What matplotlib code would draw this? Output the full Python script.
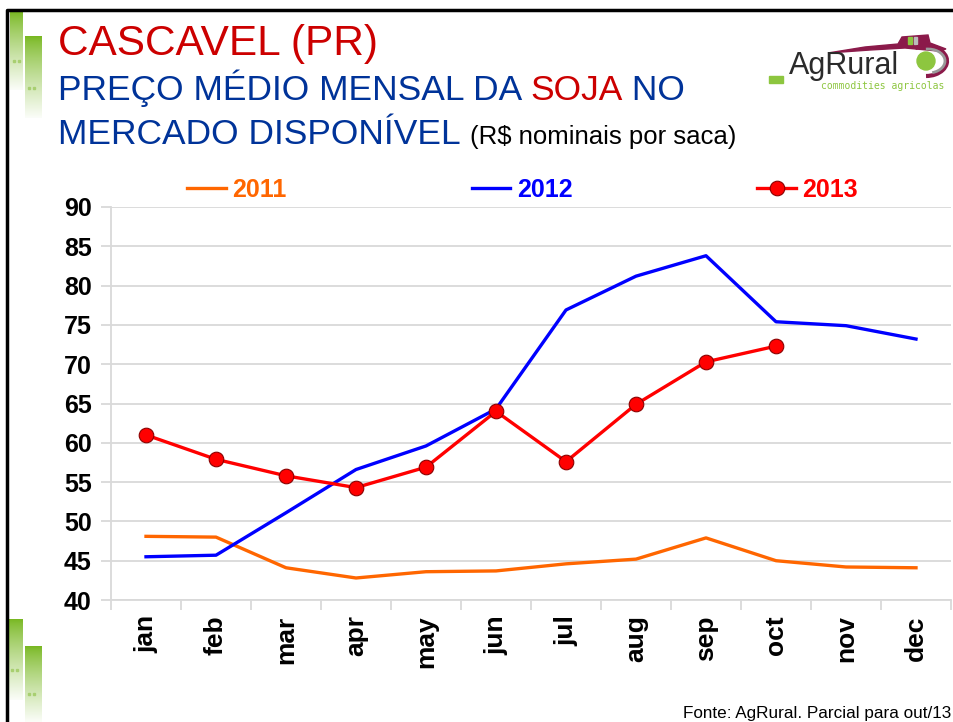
import matplotlib.pyplot as plt
import matplotlib.patches as mpatches
import numpy as np

plt.rcParams['font.family'] = ['Liberation Sans', 'DejaVu Sans']

months = ["jan", "feb", "mar", "apr", "may", "jun",
          "jul", "aug", "sep", "oct", "nov", "dec"]
soja_2011 = [48.1, 48.0, 44.1, 42.8, 43.6, 43.7, 44.6, 45.2, 47.9, 45.0, 44.2, 44.1]
soja_2012 = [45.5, 45.7, 51.1, 56.6, 59.6, 64.3, 76.9, 81.2, 83.8, 75.4, 74.9, 73.2]
soja_2013 = [61.0, 57.9, 55.8, 54.3, 56.9, 64.0, 57.6, 64.9, 70.3, 72.3]
y_ticks = [40, 45, 50, 55, 60, 65, 70, 75, 80, 85, 90]

W, H = 954, 722
fig = plt.figure(figsize=(W / 100, H / 100), dpi=100)

# --- page decorations, drawn in pixel coords ---
deco = fig.add_axes([0, 0, 1, 1])
deco.set_xlim(0, W)
deco.set_ylim(H, 0)
deco.axis("off")

grad = np.linspace(0, 1, 100).reshape(-1, 1, 1)
green = np.array([0.47, 0.72, 0.13])
img = green + (1 - green) * (grad ** 0.8) * 0.97
for x0, x1, y0, y1 in [(10, 23, 12, 90), (25, 42, 36, 118),
                       (8, 23, 619, 700), (25, 42, 646, 722)]:
    deco.imshow(img, extent=(x0, x1, y1, y0), aspect="auto", zorder=1)
    ym = y0 + (y1 - y0) * 0.62
    for dx in (3, 8):
        deco.add_patch(mpatches.Rectangle((x0 + dx, ym), 2, 2,
                                          color="#A8CF70", zorder=2))
deco.plot([7, 7, W], [H, 10, 10], color="black", lw=2.5, zorder=2)

# title
deco.text(58, 55, "CASCAVEL (PR)", color="#CC0000", fontsize=30.5)
t1 = deco.text(58, 100, "PREÇO MÉDIO MENSAL DA ", color="#003399", fontsize=25.5)
fig.canvas.draw()
t2 = deco.text(t1.get_window_extent().x1, 100, "SOJA", color="#CC0000",
               fontsize=25.5)
fig.canvas.draw()
deco.text(t2.get_window_extent().x1, 100, " NO", color="#003399", fontsize=25.5)
t3 = deco.text(58, 144, "MERCADO DISPONÍVEL", color="#003399", fontsize=25.5)
fig.canvas.draw()
deco.text(t3.get_window_extent().x1 + 9, 144, "(R$ nominais por saca)",
          color="black", fontsize=18.5)

# logo
maroon = "#8B1A4A"
deco.add_patch(mpatches.Polygon([(828, 53), (865, 47), (898, 44), (902, 37),
                                 (928, 35), (930, 43), (946, 49), (938, 51),
                                 (905, 48), (870, 50)],
                                closed=True, color=maroon, zorder=2))
deco.add_patch(mpatches.Rectangle((908, 37), 4, 7, color="#8DC63F", zorder=3))
deco.add_patch(mpatches.Rectangle((914, 37), 3, 7, color="#BBBBBB", zorder=3))
deco.add_patch(mpatches.Circle((926, 61), 9, color="#8DC63F", zorder=3))
deco.add_patch(mpatches.Arc((926, 61), 42, 30, theta1=-130, theta2=90,
                            color=maroon, lw=3, zorder=3))
deco.add_patch(mpatches.Arc((928, 61), 34, 24, theta1=-100, theta2=70,
                            color="#999999", lw=2, zorder=3))
deco.add_patch(mpatches.Rectangle((769, 76), 14, 7, color="#8DC63F", zorder=3))
deco.text(789, 74, "AgRural", color="#2B2B2B", fontsize=22, zorder=4)
deco.text(821, 89, "commodities agricolas", color="#8DC63F", fontsize=7,
          family="DejaVu Sans Mono", zorder=4)

deco.text(951, 718, "Fonte: AgRural. Parcial para out/13", ha="right",
          va="baseline", fontsize=12.3, color="black")

# --- chart ---
ax = fig.add_axes([111 / W, (H - 600) / H, 840 / W, 393 / H])
x = np.arange(len(months))
ax.plot(x, soja_2011, color="#FF6600", lw=2.4, label="2011", zorder=3)
ax.plot(x, soja_2012, color="#0000FF", lw=2.4, label="2012", zorder=3)
ax.plot(x[:len(soja_2013)], soja_2013, color="#FF0000", lw=2.4, marker="o",
        markersize=10.5, markerfacecolor="#FF0000", markeredgecolor="#8B0000",
        markeredgewidth=0.8, label="2013", zorder=4)

ax.set_xlim(-0.5, len(months) - 0.5)
ax.set_ylim(40, 90)
ax.set_yticks(y_ticks)
ax.set_yticklabels([str(v) for v in y_ticks], fontsize=18, fontweight="bold")
ax.yaxis.grid(True, color="#D9D9D9", lw=1.3)
ax.set_axisbelow(True)

ax.set_xticks(np.arange(-0.5, len(months), 1))
ax.set_xticklabels([])
ax.set_xticks(x, minor=True)
ax.set_xticklabels(months, minor=True, rotation=90, fontsize=19,
                   fontweight="bold")
ax.tick_params(axis="x", which="major", length=7, color="#D9D9D9", width=1.3)
ax.tick_params(axis="x", which="minor", length=0, pad=11)
ax.tick_params(axis="y", length=7, color="#D9D9D9", width=1.3, pad=7)

for s in ["top", "right"]:
    ax.spines[s].set_visible(False)
for s in ["left", "bottom"]:
    ax.spines[s].set_color("#D9D9D9")
    ax.spines[s].set_linewidth(1.3)

leg = ax.legend(loc="lower center", bbox_to_anchor=(0.49, 0.955), ncol=3,
                frameon=False, prop={"weight": "bold", "size": 18},
                handlelength=1.55, handletextpad=0.25, columnspacing=7.4)
for txt, c in zip(leg.get_texts(), ["#FF6600", "#0000FF", "#FF0000"]):
    txt.set_color(c)

fig.savefig("out.png", dpi=100)
